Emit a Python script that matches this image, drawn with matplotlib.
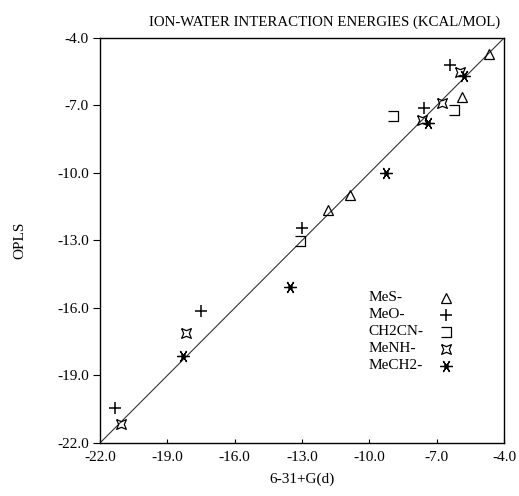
import matplotlib
matplotlib.use('Agg')

import matplotlib.pyplot as plt
from matplotlib.path import Path

plt.rcParams['font.family'] = ['Liberation Serif', 'DejaVu Serif']

# data: (6-31+G(d), OPLS) in kcal/mol
mes_x = [-4.65, -5.87, -10.86, -11.84]
mes_y = [-4.70, -6.62, -10.98, -11.64]
meo_x = [-6.40, -7.56, -13.00, -17.50, -21.33]
meo_y = [-5.20, -7.11, -12.44, -16.13, -20.44]
ch2cn_x = [-6.22, -8.94, -13.09]
ch2cn_y = [-7.20, -7.47, -13.02]
menh_x = [-5.96, -6.76, -7.65, -18.17, -21.06]
menh_y = [-5.51, -6.89, -7.64, -17.11, -21.16]
mech2_x = [-5.78, -7.38, -9.25, -13.53, -18.30]
mech2_y = [-5.69, -7.78, -10.00, -15.07, -18.13]

ticks = [-22.0, -19.0, -16.0, -13.0, -10.0, -7.0, -4.0]
labels = ['MeS-', 'MeO-', 'CH2CN-', 'MeNH-', 'MeCH2-']

# custom markers
open_box = Path([(-1, 1), (1, 1), (1, -1), (-1, -1)],
                [Path.MOVETO, Path.LINETO, Path.LINETO, Path.LINETO])
pinched = Path([(-1.2, 1.2), (0, 0.7), (1.2, 1.2), (0.7, 0), (1.2, -1.2),
                (0, -0.7), (-1.2, -1.2), (-0.7, 0), (-1.2, 1.2)])

styles = [
    dict(marker='^', ms=7, mfc='none', mew=0.9),
    dict(marker='+', ms=8, mew=1.1),
    dict(marker=open_box, ms=7, mfc='none', mew=0.9),
    dict(marker=pinched, ms=7, mfc='none', mew=0.9),
    dict(marker=(6, 2, 90), ms=9, mew=0.9),
]
series = [(mes_x, mes_y), (meo_x, meo_y), (ch2cn_x, ch2cn_y),
          (menh_x, menh_y), (mech2_x, mech2_y)]

fig = plt.figure(figsize=(5.19, 4.96), dpi=100)
ax = fig.add_axes([0.1927, 0.1069, 0.7784, 0.8165])

ax.plot([ticks[0], ticks[-1]], [ticks[0], ticks[-1]], color='#333333', lw=0.8)

for (xs, ys), st in zip(series, styles):
    ax.plot(xs, ys, ls='none', color='black', **st)
# filled centre dots for the asterisks
ax.plot(mech2_x, mech2_y, ls='none', marker='o', ms=2.5, color='black')

ax.set_xlim(-22, -4)
ax.set_ylim(-22, -4)
ax.set_xticks(ticks)
ax.set_yticks(ticks)
ax.set_xticklabels(['%.1f' % t for t in ticks])
ax.set_yticklabels(['%.1f' % t for t in ticks])
ax.tick_params(axis='x', direction='in', length=3, labelsize=11, pad=6)
ax.tick_params(axis='y', direction='out', length=5, labelsize=11, pad=3)
for s in ax.spines.values():
    s.set_linewidth(1.0)

ax.set_xlabel('6-31+G(d)', fontsize=11, labelpad=6)
ax.set_ylabel('OPLS', fontsize=11, labelpad=22)
ax.set_title('ION-WATER INTERACTION ENERGIES (KCAL/MOL)', fontsize=10.7, pad=9, x=0.555)

# legend drawn by hand: labels left aligned, markers in a column
for i, (lab, st) in enumerate(zip(labels, styles)):
    yy = 0.359 - i * 0.042
    ax.text(0.665, yy, lab, transform=ax.transAxes, fontsize=11, va='center')
    ax.plot([0.857], [yy], transform=ax.transAxes, ls='none', color='black', **st)
    if i == 4:
        ax.plot([0.857], [yy], transform=ax.transAxes, marker='o', ms=2.5, color='black')

fig.savefig('out.png', dpi=100)
